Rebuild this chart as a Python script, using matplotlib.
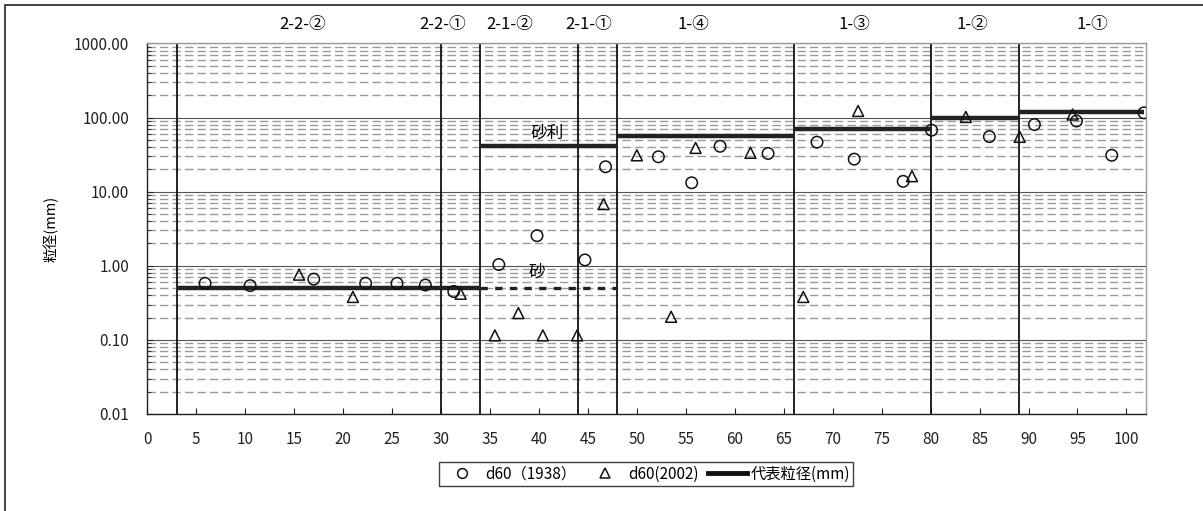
import matplotlib
matplotlib.use("Agg")
import matplotlib.pyplot as plt
from matplotlib.lines import Line2D
from matplotlib.patches import Rectangle
from matplotlib.ticker import FixedLocator, FuncFormatter, LogLocator, NullFormatter
import matplotlib.transforms as mtransforms

plt.rcParams['font.family'] = ['Noto Sans CJK JP', 'DejaVu Sans']

# ---- data ----
x1938 = [5.9, 10.5, 17.0, 22.3, 25.5, 28.4, 31.3, 35.9, 39.8, 44.7, 46.8, 52.2,
         55.6, 58.5, 63.4, 68.4, 72.2, 77.2, 80.1, 86.0, 90.6, 94.9, 98.5, 101.8]
y1938 = [0.58, 0.54, 0.66, 0.58, 0.58, 0.55, 0.45, 1.04, 2.55, 1.2, 21.7, 29.6,
         13.2, 41, 32.8, 46.6, 27.5, 13.8, 67.6, 55.4, 80.5, 90, 31, 116]

x2002 = [15.5, 21.0, 32.0, 35.5, 37.9, 40.4, 43.9, 46.6, 50.0, 53.5, 56.0, 61.6,
         67.0, 72.6, 78.1, 83.6, 89.1, 94.5]
y2002 = [0.76, 0.38, 0.42, 0.115, 0.23, 0.115, 0.115, 6.8, 31, 0.205, 39, 33.5,
         0.38, 123, 16.2, 102, 55, 110]

rep_start = [3, 34, 48, 66, 80, 89]
rep_end = [34, 48, 66, 80, 89, 101.8]
rep_val = [0.5, 42, 56, 71, 100, 119]

sand_start = 34
sand_end = 48
sand_val = 0.5

boundaries = [3, 30, 34, 44, 48, 66, 80, 89]
section_names = ['2-2-②', '2-2-①', '2-1-②', '2-1-①', '1-④', '1-③', '1-②', '1-①']
section_x = [15.9, 30.2, 37.0, 45.1, 55.8, 72.2, 84.3, 96.5]

y_ticks = [0.01, 0.1, 1, 10, 100, 1000]
x_ticks = list(range(0, 101, 5))

# ---- figure ----
W, H = 1203, 511
fig = plt.figure(figsize=(W / 100, H / 100), dpi=100)
ax = fig.add_axes([147.3 / W, 1 - 414.0 / H, (1146 - 147.3) / W, (414.0 - 43.5) / H])

ax.set_yscale('log')
ax.set_xlim(0, 102)
ax.set_ylim(0.01, 1000)

ax.yaxis.set_major_locator(FixedLocator(y_ticks))
ax.yaxis.set_major_formatter(FuncFormatter(lambda v, p: f"{v:.2f}"))
ax.yaxis.set_minor_locator(LogLocator(base=10, subs=range(2, 10), numticks=20))
ax.yaxis.set_minor_formatter(NullFormatter())
ax.xaxis.set_major_locator(FixedLocator(x_ticks))

ax.tick_params(axis='both', which='both', direction='in', labelsize=11, colors='#222')
ax.tick_params(axis='y', which='major', length=4, width=0.8, pad=13)
ax.tick_params(axis='y', which='minor', length=3, width=0.6)
ax.tick_params(axis='x', which='major', length=4, width=0.8, pad=12)

ax.yaxis.grid(True, which='major', color='#555555', lw=0.8, ls='-')
ax.yaxis.grid(True, which='minor', color='#9a9a9a', lw=1.0, ls=(0, (6, 3)))
ax.set_axisbelow(True)

for s in ['left', 'bottom']:
    ax.spines[s].set_color('#222')
    ax.spines[s].set_linewidth(1.0)
for s in ['top', 'right']:
    ax.spines[s].set_color('#999999')
    ax.spines[s].set_linewidth(1.0)

for b in boundaries:
    ax.axvline(b, color='#111', lw=1.3, zorder=2)

# representative grain size
for xs, xe, v in zip(rep_start, rep_end, rep_val):
    ax.plot([xs, xe], [v, v], color='#222', lw=3.2, solid_capstyle='butt', zorder=3)
ax.plot([sand_start, sand_end], [sand_val, sand_val], color='#222', lw=2.4,
        ls=(0, (2.2, 2.2)), zorder=3)

ax.scatter(x1938, y1938, s=68, marker='o', facecolors='none', edgecolors='#111',
           linewidths=1.1, zorder=4)
ax.scatter(x2002, y2002, s=62, marker='^', facecolors='none', edgecolors='#111',
           linewidths=1.1, zorder=4)

ax.text(40.8, 61, '砂利', fontsize=12, ha='center', va='center', zorder=5)
ax.text(39.8, 0.81, '砂', fontsize=12, ha='center', va='center', zorder=5)

trans = mtransforms.blended_transform_factory(ax.transData, ax.transAxes)
for name, xp in zip(section_names, section_x):
    ax.text(xp, 1.05, name, transform=trans, ha='center', va='center', fontsize=12)

ax.set_ylabel('粒径(mm)', fontsize=10.5)
ax.yaxis.set_label_coords(-0.089, 0.5)

handles = [
    Line2D([], [], ls='none', marker='o', mfc='none', mec='#111', ms=7, mew=1.1),
    Line2D([], [], ls='none', marker='^', mfc='none', mec='#111', ms=7, mew=1.1),
    Line2D([], [], color='#111', lw=3.5),
]
labels = ['d60（1938）', 'd60(2002)', '代表粒径(mm)']
leg = fig.legend(handles, labels, loc='center', bbox_to_anchor=(646 / W, 1 - 474 / H),
                 ncol=3, frameon=True, fancybox=False, edgecolor='#111',
                 fontsize=11, handlelength=2.6, handletextpad=0.2,
                 columnspacing=0.6, borderpad=0.2, borderaxespad=0)
leg.get_frame().set_linewidth(1.0)

# outer frame
fig.patches.append(Rectangle((5 / W, -0.1), 2.0, 1.1 - 5 / H, transform=fig.transFigure,
                             fill=False, edgecolor='#333', lw=1.3))

fig.savefig('out.png', dpi=100)
